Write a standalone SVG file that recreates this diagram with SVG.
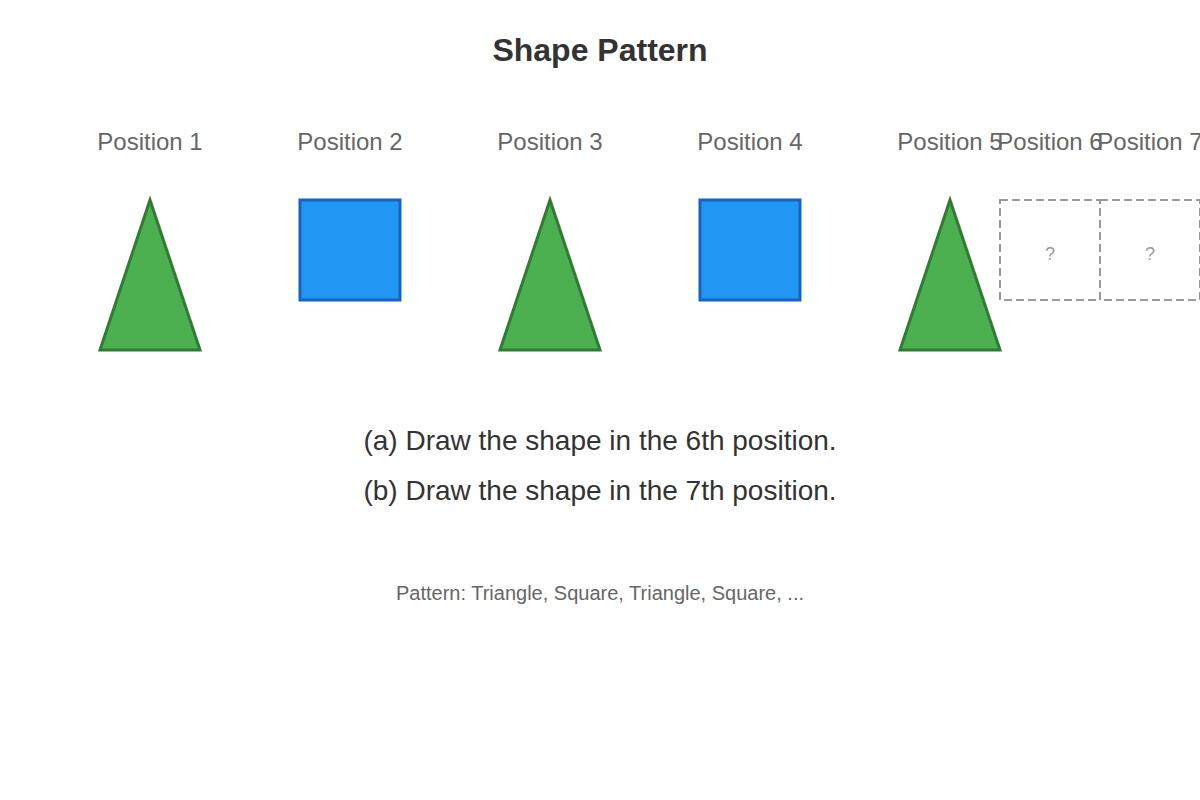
<svg xmlns="http://www.w3.org/2000/svg" width="1200" height="800" viewBox="0 0 1200 800">
<style>
text{font-family:"Liberation Sans",Arial,sans-serif;text-anchor:middle}
.title{font-size:32px;font-weight:bold;fill:#333}
.lbl{font-size:24px;fill:#666}
.q{font-size:28px;fill:#333}
.note{font-size:20px;fill:#666}
.qm{font-size:18px;fill:#999}
.tri{fill:#4CAF50;stroke:#2E7D32;stroke-width:3}
.sq{fill:#2196F3;stroke:#1565C0;stroke-width:3}
.empty{fill:none;stroke:#999;stroke-width:2;stroke-dasharray:8,4}
</style>
<rect width="1200" height="800" fill="#fff"/>
<text class="title" x="600" y="61">Shape Pattern</text>
<g id="pos1"><text class="lbl" x="150" y="150">Position 1</text><polygon class="tri" points="150,200 100,350 200,350"/></g>
<g id="pos2"><text class="lbl" x="350" y="150">Position 2</text><rect class="sq" x="300" y="200" width="100" height="100"/></g>
<g id="pos3"><text class="lbl" x="550" y="150">Position 3</text><polygon class="tri" points="550,200 500,350 600,350"/></g>
<g id="pos4"><text class="lbl" x="750" y="150">Position 4</text><rect class="sq" x="700" y="200" width="100" height="100"/></g>
<g id="pos5"><text class="lbl" x="950" y="150">Position 5</text><polygon class="tri" points="950,200 900,350 1000,350"/></g>
<g id="pos6"><text class="lbl" x="1050" y="150">Position 6</text><rect class="empty" x="1000" y="200" width="100" height="100"/><text class="qm" x="1050" y="260">?</text></g>
<g id="pos7"><text class="lbl" x="1150" y="150">Position 7</text><rect class="empty" x="1100" y="200" width="100" height="100"/><text class="qm" x="1150" y="260">?</text></g>
<g id="connectors"></g>
<text class="q" x="600" y="450">(a) Draw the shape in the 6th position.</text>
<text class="q" x="600" y="500">(b) Draw the shape in the 7th position.</text>
<text class="note" x="600" y="600">Pattern: Triangle, Square, Triangle, Square, ...</text>
</svg>
